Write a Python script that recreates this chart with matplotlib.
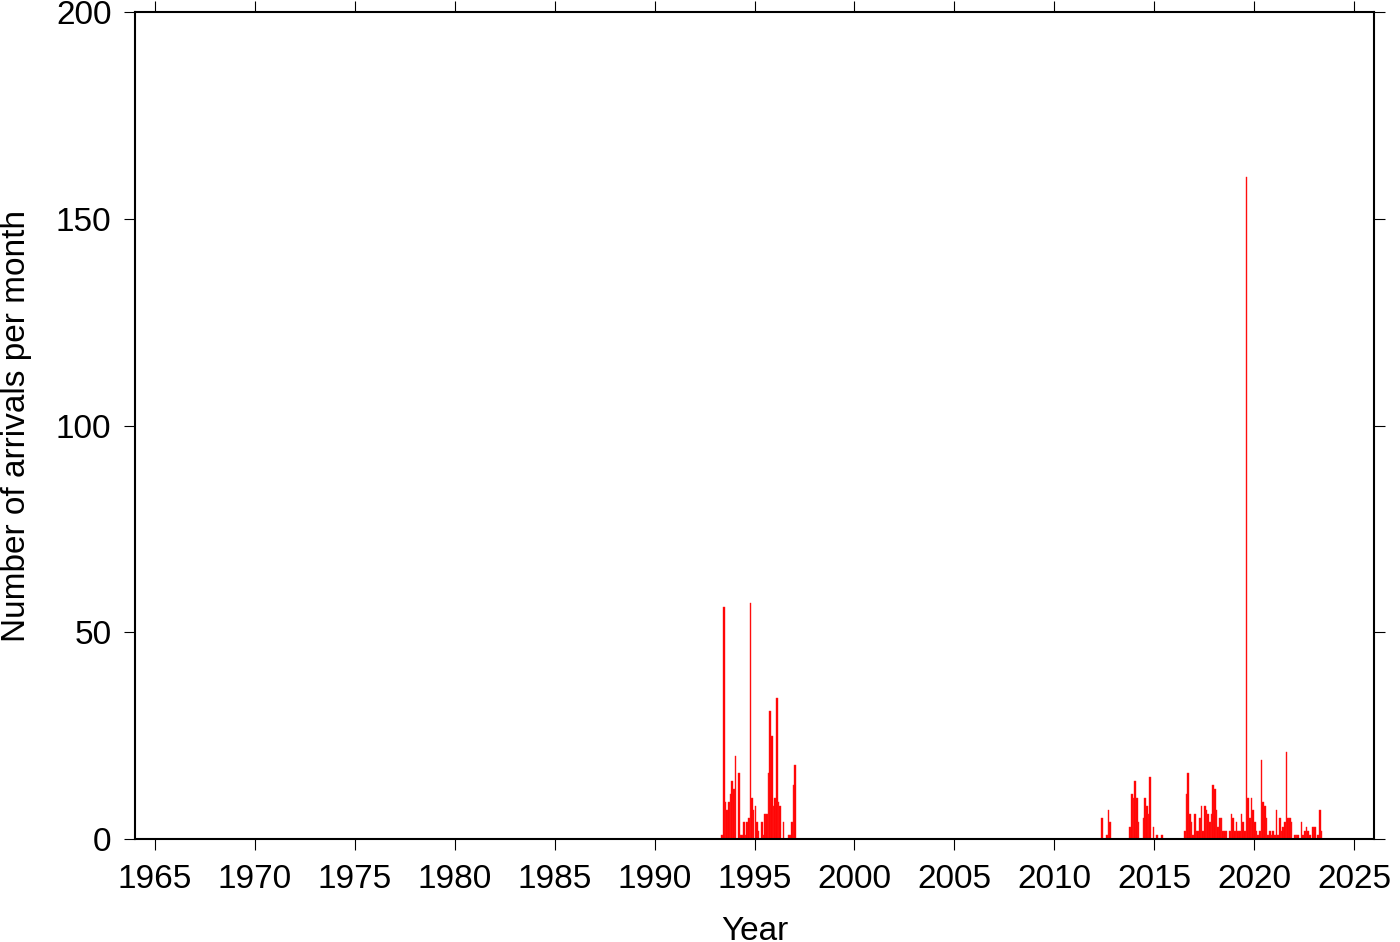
import numpy as np
import matplotlib.pyplot as plt

plt.rcParams['font.family'] = ['Liberation Sans', 'DejaVu Sans']

# monthly arrival counts, each cluster starts at (year, month index 0-11)
start_1993 = (1993, 4)
counts_1993 = [1, 56, 9, 7, 9, 11, 14, 12, 20, 0, 16, 1, 1, 4, 1, 4, 5, 57, 10, 7, 8, 4, 2, 0,
               4, 1, 6, 6, 16, 31, 25, 8, 10, 34, 9, 8, 0, 4, 0, 0, 1, 1, 4, 13, 18]

start_2012 = (2012, 4)
counts_2012 = [5, 0, 0, 1, 7, 4, 0, 0, 0, 0, 0, 0, 0, 0, 0, 0, 0,
               3, 11, 10, 14, 10, 4, 0, 0, 5, 10, 8, 6, 15, 0, 3, 0, 1, 0, 0, 1]

start_2016 = (2016, 6)
counts_2016 = [2, 11, 16, 6, 4, 1, 6, 2, 2, 5, 8, 2, 8, 7, 6, 4, 6, 13, 12, 7, 3, 5, 5, 2,
               2, 2, 0, 2, 6, 5, 2, 4, 2, 2, 6, 4, 2, 160, 10, 5, 10, 7, 4, 2, 1, 2, 19, 9,
               8, 5, 1, 2, 1, 2, 1, 7, 1, 5, 2, 3, 4, 21, 5, 5, 4, 0, 1, 1, 1, 0, 4, 1,
               2, 3, 2, 1, 0, 3, 3, 0, 1, 7, 2]

xticks = list(range(1965, 2026, 5))
yticks = [0, 50, 100, 150, 200]

fig = plt.figure(figsize=(14, 9.42), dpi=100)
ax = fig.add_axes([135/1400, 1 - 839/942, (1374 - 135)/1400, (839 - 12)/942])

for (yr, mo), cnt in [(start_1993, counts_1993), (start_2012, counts_2012), (start_2016, counts_2016)]:
    t = yr + (mo + np.arange(len(cnt))) / 12.0
    ax.bar(t, cnt, width=1/12, align='edge', color='#ff0000', edgecolor='#ff2020', linewidth=0.3)

ax.set_xlim(1964, 2026)
ax.set_ylim(0, 200)
ax.set_xticks(xticks)
ax.set_yticks(yticks)

for s in ax.spines.values():
    s.set_linewidth(1.5)
ax.tick_params(direction='out', length=8, width=0.8, labelsize=24,
               top=True, right=True, labeltop=False, labelright=False)
ax.tick_params(axis='x', pad=10)
ax.tick_params(axis='y', pad=9)

ax.set_xlabel('Year', fontsize=24, labelpad=15)
ax.set_ylabel('Number of arrivals per month', fontsize=24, labelpad=17)

fig.savefig('out.png', dpi=100)
